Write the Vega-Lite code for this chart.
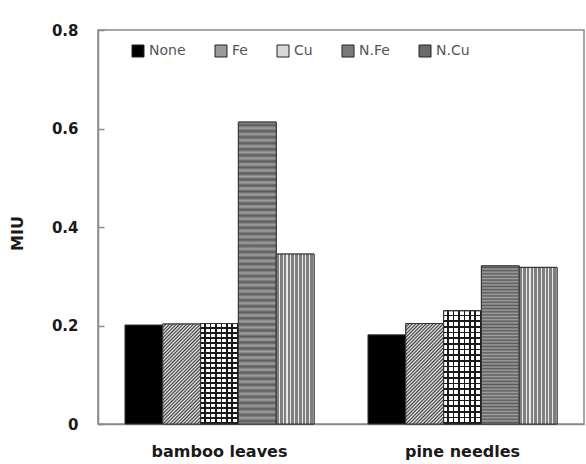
{
  "$schema": "https://vega.github.io/schema/vega-lite/v6.json",
  "width": 486,
  "height": 394,
  "autosize": "none",
  "padding": {"left": 98, "top": 30, "right": 2, "bottom": 40},
  "background": "white",
  "config": {
    "view": {"stroke": "#8a8a8a", "strokeWidth": 1.5},
    "axis": {"grid": false, "domainColor": "#8a8a8a", "domainWidth": 1.5}
  },
  "data": {
    "values": [
      {"material": "bamboo leaves", "treatment": "None", "miu": 0.201},
      {"material": "bamboo leaves", "treatment": "Fe", "miu": 0.203},
      {"material": "bamboo leaves", "treatment": "Cu", "miu": 0.204},
      {"material": "bamboo leaves", "treatment": "N.Fe", "miu": 0.613},
      {"material": "bamboo leaves", "treatment": "N.Cu", "miu": 0.345},
      {"material": "pine needles", "treatment": "None", "miu": 0.181},
      {"material": "pine needles", "treatment": "Fe", "miu": 0.204},
      {"material": "pine needles", "treatment": "Cu", "miu": 0.23},
      {"material": "pine needles", "treatment": "N.Fe", "miu": 0.321},
      {"material": "pine needles", "treatment": "N.Cu", "miu": 0.318}
    ]
  },
  "encoding": {
    "x": {
      "field": "material",
      "type": "nominal",
      "sort": ["bamboo leaves", "pine needles"],
      "scale": {"paddingInner": 0.222, "paddingOuter": 0.111},
      "axis": {
        "title": null,
        "ticks": false,
        "labelAngle": 0,
        "labelFont": "DejaVu Sans",
        "labelFontWeight": "bold",
        "labelFontSize": 16,
        "labelColor": "#1a1a1a",
        "labelBaseline": "top",
        "labelPadding": 19
      }
    },
    "xOffset": {
      "field": "treatment",
      "type": "nominal",
      "sort": ["None", "Fe", "Cu", "N.Fe", "N.Cu"],
      "scale": {"domain": ["None", "Fe", "Cu", "N.Fe", "N.Cu"], "paddingInner": 0, "paddingOuter": 0}
    },
    "y": {
      "field": "miu",
      "type": "quantitative",
      "scale": {"domain": [0, 0.8]},
      "axis": {
        "title": "MIU",
        "values": [0, 0.2, 0.4, 0.6, 0.8],
        "format": "~g",
        "tickColor": "#8a8a8a",
        "tickSize": -6,
        "tickWidth": 1.5,
        "labelFont": "DejaVu Sans",
        "labelFontWeight": "bold",
        "labelFontSize": 15,
        "labelColor": "#1a1a1a",
        "labelPadding": 26,
        "titleFont": "DejaVu Sans",
        "titleFontWeight": "bold",
        "titleFontSize": 16,
        "titleColor": "#1a1a1a",
        "titleAngle": -90,
        "titleAlign": "center",
        "titleBaseline": "middle",
        "titleX": -81,
        "titleY": 203
      }
    }
  },
  "layer": [
    {
      "mark": {"type": "bar", "stroke": "#333333", "strokeWidth": 1},
      "encoding": {
        "color": {
          "field": "treatment",
          "type": "nominal",
          "scale": {
            "domain": ["None", "Fe", "Cu", "N.Fe", "N.Cu"],
            "range": ["#000000", "#9a9a9a", "#d8d8d8", "#7a7a7a", "#6a6a6a"]
          },
          "legend": {
            "title": null,
            "orient": "none",
            "legendX": 33,
            "legendY": 14,
            "direction": "horizontal",
            "symbolType": "square",
            "symbolSize": 144,
            "symbolStrokeColor": "#222222",
            "symbolStrokeWidth": 1,
            "symbolOpacity": 1,
            "labelFont": "DejaVu Sans",
            "labelFontSize": 14,
            "labelColor": "#555555",
            "labelOffset": 4,
            "columnPadding": 27
          }
        }
      }
    },
    {
      "transform": [{"filter": "datum.treatment === 'Fe'"}],
      "mark": {
        "type": "bar",
        "stroke": "#333333",
        "strokeWidth": 1,
        "fill": {
          "gradient": "linear", "x1": 0, "y1": 0, "x2": 0.458, "y2": 1.206,
          "stops": [
            {"offset": 0, "color": "#3c3c3c"}, {"offset": 0.0125, "color": "#f0f0f0"}, {"offset": 0.025, "color": "#3c3c3c"}, {"offset": 0.0375, "color": "#f0f0f0"},
            {"offset": 0.05, "color": "#3c3c3c"}, {"offset": 0.0625, "color": "#f0f0f0"}, {"offset": 0.075, "color": "#3c3c3c"}, {"offset": 0.0875, "color": "#f0f0f0"},
            {"offset": 0.1, "color": "#3c3c3c"}, {"offset": 0.1125, "color": "#f0f0f0"}, {"offset": 0.125, "color": "#3c3c3c"}, {"offset": 0.1375, "color": "#f0f0f0"},
            {"offset": 0.15, "color": "#3c3c3c"}, {"offset": 0.1625, "color": "#f0f0f0"}, {"offset": 0.175, "color": "#3c3c3c"}, {"offset": 0.1875, "color": "#f0f0f0"},
            {"offset": 0.2, "color": "#3c3c3c"}, {"offset": 0.2125, "color": "#f0f0f0"}, {"offset": 0.225, "color": "#3c3c3c"}, {"offset": 0.2375, "color": "#f0f0f0"},
            {"offset": 0.25, "color": "#3c3c3c"}, {"offset": 0.2625, "color": "#f0f0f0"}, {"offset": 0.275, "color": "#3c3c3c"}, {"offset": 0.2875, "color": "#f0f0f0"},
            {"offset": 0.3, "color": "#3c3c3c"}, {"offset": 0.3125, "color": "#f0f0f0"}, {"offset": 0.325, "color": "#3c3c3c"}, {"offset": 0.3375, "color": "#f0f0f0"},
            {"offset": 0.35, "color": "#3c3c3c"}, {"offset": 0.3625, "color": "#f0f0f0"}, {"offset": 0.375, "color": "#3c3c3c"}, {"offset": 0.3875, "color": "#f0f0f0"},
            {"offset": 0.4, "color": "#3c3c3c"}, {"offset": 0.4125, "color": "#f0f0f0"}, {"offset": 0.425, "color": "#3c3c3c"}, {"offset": 0.4375, "color": "#f0f0f0"},
            {"offset": 0.45, "color": "#3c3c3c"}, {"offset": 0.4625, "color": "#f0f0f0"}, {"offset": 0.475, "color": "#3c3c3c"}, {"offset": 0.4875, "color": "#f0f0f0"},
            {"offset": 0.5, "color": "#3c3c3c"}, {"offset": 0.5125, "color": "#f0f0f0"}, {"offset": 0.525, "color": "#3c3c3c"}, {"offset": 0.5375, "color": "#f0f0f0"},
            {"offset": 0.55, "color": "#3c3c3c"}, {"offset": 0.5625, "color": "#f0f0f0"}, {"offset": 0.575, "color": "#3c3c3c"}, {"offset": 0.5875, "color": "#f0f0f0"},
            {"offset": 0.6, "color": "#3c3c3c"}, {"offset": 0.6125, "color": "#f0f0f0"}, {"offset": 0.625, "color": "#3c3c3c"}, {"offset": 0.6375, "color": "#f0f0f0"},
            {"offset": 0.65, "color": "#3c3c3c"}, {"offset": 0.6625, "color": "#f0f0f0"}, {"offset": 0.675, "color": "#3c3c3c"}, {"offset": 0.6875, "color": "#f0f0f0"},
            {"offset": 0.7, "color": "#3c3c3c"}, {"offset": 0.7125, "color": "#f0f0f0"}, {"offset": 0.725, "color": "#3c3c3c"}, {"offset": 0.7375, "color": "#f0f0f0"},
            {"offset": 0.75, "color": "#3c3c3c"}, {"offset": 0.7625, "color": "#f0f0f0"}, {"offset": 0.775, "color": "#3c3c3c"}, {"offset": 0.7875, "color": "#f0f0f0"},
            {"offset": 0.8, "color": "#3c3c3c"}, {"offset": 0.8125, "color": "#f0f0f0"}, {"offset": 0.825, "color": "#3c3c3c"}, {"offset": 0.8375, "color": "#f0f0f0"},
            {"offset": 0.85, "color": "#3c3c3c"}, {"offset": 0.8625, "color": "#f0f0f0"}, {"offset": 0.875, "color": "#3c3c3c"}, {"offset": 0.8875, "color": "#f0f0f0"},
            {"offset": 0.9, "color": "#3c3c3c"}, {"offset": 0.9125, "color": "#f0f0f0"}, {"offset": 0.925, "color": "#3c3c3c"}, {"offset": 0.9375, "color": "#f0f0f0"},
            {"offset": 0.95, "color": "#3c3c3c"}, {"offset": 0.9625, "color": "#f0f0f0"}, {"offset": 0.975, "color": "#3c3c3c"}, {"offset": 0.9875, "color": "#f0f0f0"},
            {"offset": 1, "color": "#3c3c3c"}
          ]
        }
      }
    },
    {
      "transform": [{"filter": "datum.treatment === 'Cu'"}],
      "mark": {
        "type": "bar",
        "stroke": "#333333",
        "strokeWidth": 1,
        "fill": {
          "gradient": "linear", "x1": 0, "y1": 0, "x2": 1, "y2": 0,
          "stops": [
            {"offset": 0, "color": "#ffffff"}, {"offset": 0.1, "color": "#ffffff"}, {"offset": 0.1, "color": "#1a1a1a"}, {"offset": 0.1429, "color": "#1a1a1a"},
            {"offset": 0.1429, "color": "#ffffff"}, {"offset": 0.2429, "color": "#ffffff"}, {"offset": 0.2429, "color": "#1a1a1a"}, {"offset": 0.2857, "color": "#1a1a1a"},
            {"offset": 0.2857, "color": "#ffffff"}, {"offset": 0.3857, "color": "#ffffff"}, {"offset": 0.3857, "color": "#1a1a1a"}, {"offset": 0.4286, "color": "#1a1a1a"},
            {"offset": 0.4286, "color": "#ffffff"}, {"offset": 0.5286, "color": "#ffffff"}, {"offset": 0.5286, "color": "#1a1a1a"}, {"offset": 0.5714, "color": "#1a1a1a"},
            {"offset": 0.5714, "color": "#ffffff"}, {"offset": 0.6714, "color": "#ffffff"}, {"offset": 0.6714, "color": "#1a1a1a"}, {"offset": 0.7143, "color": "#1a1a1a"},
            {"offset": 0.7143, "color": "#ffffff"}, {"offset": 0.8143, "color": "#ffffff"}, {"offset": 0.8143, "color": "#1a1a1a"}, {"offset": 0.8571, "color": "#1a1a1a"},
            {"offset": 0.8571, "color": "#ffffff"}, {"offset": 0.9571, "color": "#ffffff"}, {"offset": 0.9571, "color": "#1a1a1a"}, {"offset": 1, "color": "#1a1a1a"}
          ]
        }
      }
    },
    {
      "transform": [{"filter": "datum.treatment === 'Cu'"}],
      "mark": {
        "type": "bar",
        "stroke": "#333333",
        "strokeWidth": 1,
        "fill": {
          "gradient": "linear", "x1": 0, "y1": 0, "x2": 0, "y2": 1,
          "stops": [
            {"offset": 0, "color": "rgba(0,0,0,0)"}, {"offset": 0.035, "color": "rgba(0,0,0,0)"}, {"offset": 0.035, "color": "#1a1a1a"}, {"offset": 0.05, "color": "#1a1a1a"},
            {"offset": 0.05, "color": "rgba(0,0,0,0)"}, {"offset": 0.085, "color": "rgba(0,0,0,0)"}, {"offset": 0.085, "color": "#1a1a1a"}, {"offset": 0.1, "color": "#1a1a1a"},
            {"offset": 0.1, "color": "rgba(0,0,0,0)"}, {"offset": 0.135, "color": "rgba(0,0,0,0)"}, {"offset": 0.135, "color": "#1a1a1a"}, {"offset": 0.15, "color": "#1a1a1a"},
            {"offset": 0.15, "color": "rgba(0,0,0,0)"}, {"offset": 0.185, "color": "rgba(0,0,0,0)"}, {"offset": 0.185, "color": "#1a1a1a"}, {"offset": 0.2, "color": "#1a1a1a"},
            {"offset": 0.2, "color": "rgba(0,0,0,0)"}, {"offset": 0.235, "color": "rgba(0,0,0,0)"}, {"offset": 0.235, "color": "#1a1a1a"}, {"offset": 0.25, "color": "#1a1a1a"},
            {"offset": 0.25, "color": "rgba(0,0,0,0)"}, {"offset": 0.285, "color": "rgba(0,0,0,0)"}, {"offset": 0.285, "color": "#1a1a1a"}, {"offset": 0.3, "color": "#1a1a1a"},
            {"offset": 0.3, "color": "rgba(0,0,0,0)"}, {"offset": 0.335, "color": "rgba(0,0,0,0)"}, {"offset": 0.335, "color": "#1a1a1a"}, {"offset": 0.35, "color": "#1a1a1a"},
            {"offset": 0.35, "color": "rgba(0,0,0,0)"}, {"offset": 0.385, "color": "rgba(0,0,0,0)"}, {"offset": 0.385, "color": "#1a1a1a"}, {"offset": 0.4, "color": "#1a1a1a"},
            {"offset": 0.4, "color": "rgba(0,0,0,0)"}, {"offset": 0.435, "color": "rgba(0,0,0,0)"}, {"offset": 0.435, "color": "#1a1a1a"}, {"offset": 0.45, "color": "#1a1a1a"},
            {"offset": 0.45, "color": "rgba(0,0,0,0)"}, {"offset": 0.485, "color": "rgba(0,0,0,0)"}, {"offset": 0.485, "color": "#1a1a1a"}, {"offset": 0.5, "color": "#1a1a1a"},
            {"offset": 0.5, "color": "rgba(0,0,0,0)"}, {"offset": 0.535, "color": "rgba(0,0,0,0)"}, {"offset": 0.535, "color": "#1a1a1a"}, {"offset": 0.55, "color": "#1a1a1a"},
            {"offset": 0.55, "color": "rgba(0,0,0,0)"}, {"offset": 0.585, "color": "rgba(0,0,0,0)"}, {"offset": 0.585, "color": "#1a1a1a"}, {"offset": 0.6, "color": "#1a1a1a"},
            {"offset": 0.6, "color": "rgba(0,0,0,0)"}, {"offset": 0.635, "color": "rgba(0,0,0,0)"}, {"offset": 0.635, "color": "#1a1a1a"}, {"offset": 0.65, "color": "#1a1a1a"},
            {"offset": 0.65, "color": "rgba(0,0,0,0)"}, {"offset": 0.685, "color": "rgba(0,0,0,0)"}, {"offset": 0.685, "color": "#1a1a1a"}, {"offset": 0.7, "color": "#1a1a1a"},
            {"offset": 0.7, "color": "rgba(0,0,0,0)"}, {"offset": 0.735, "color": "rgba(0,0,0,0)"}, {"offset": 0.735, "color": "#1a1a1a"}, {"offset": 0.75, "color": "#1a1a1a"},
            {"offset": 0.75, "color": "rgba(0,0,0,0)"}, {"offset": 0.785, "color": "rgba(0,0,0,0)"}, {"offset": 0.785, "color": "#1a1a1a"}, {"offset": 0.8, "color": "#1a1a1a"},
            {"offset": 0.8, "color": "rgba(0,0,0,0)"}, {"offset": 0.835, "color": "rgba(0,0,0,0)"}, {"offset": 0.835, "color": "#1a1a1a"}, {"offset": 0.85, "color": "#1a1a1a"},
            {"offset": 0.85, "color": "rgba(0,0,0,0)"}, {"offset": 0.885, "color": "rgba(0,0,0,0)"}, {"offset": 0.885, "color": "#1a1a1a"}, {"offset": 0.9, "color": "#1a1a1a"},
            {"offset": 0.9, "color": "rgba(0,0,0,0)"}, {"offset": 0.935, "color": "rgba(0,0,0,0)"}, {"offset": 0.935, "color": "#1a1a1a"}, {"offset": 0.95, "color": "#1a1a1a"},
            {"offset": 0.95, "color": "rgba(0,0,0,0)"}, {"offset": 0.985, "color": "rgba(0,0,0,0)"}, {"offset": 0.985, "color": "#1a1a1a"}, {"offset": 1, "color": "#1a1a1a"}
          ]
        }
      }
    },
    {
      "transform": [{"filter": "datum.treatment === 'N.Fe'"}],
      "mark": {
        "type": "bar",
        "stroke": "#333333",
        "strokeWidth": 1,
        "fill": {
          "gradient": "linear", "x1": 0, "y1": 0, "x2": 0, "y2": 1,
          "stops": [
            {"offset": 0, "color": "#a0a0a0"}, {"offset": 0.01, "color": "#5a5a5a"}, {"offset": 0.02, "color": "#a0a0a0"}, {"offset": 0.03, "color": "#5a5a5a"},
            {"offset": 0.04, "color": "#a0a0a0"}, {"offset": 0.05, "color": "#5a5a5a"}, {"offset": 0.06, "color": "#a0a0a0"}, {"offset": 0.07, "color": "#5a5a5a"},
            {"offset": 0.08, "color": "#a0a0a0"}, {"offset": 0.09, "color": "#5a5a5a"}, {"offset": 0.1, "color": "#a0a0a0"}, {"offset": 0.11, "color": "#5a5a5a"},
            {"offset": 0.12, "color": "#a0a0a0"}, {"offset": 0.13, "color": "#5a5a5a"}, {"offset": 0.14, "color": "#a0a0a0"}, {"offset": 0.15, "color": "#5a5a5a"},
            {"offset": 0.16, "color": "#a0a0a0"}, {"offset": 0.17, "color": "#5a5a5a"}, {"offset": 0.18, "color": "#a0a0a0"}, {"offset": 0.19, "color": "#5a5a5a"},
            {"offset": 0.2, "color": "#a0a0a0"}, {"offset": 0.21, "color": "#5a5a5a"}, {"offset": 0.22, "color": "#a0a0a0"}, {"offset": 0.23, "color": "#5a5a5a"},
            {"offset": 0.24, "color": "#a0a0a0"}, {"offset": 0.25, "color": "#5a5a5a"}, {"offset": 0.26, "color": "#a0a0a0"}, {"offset": 0.27, "color": "#5a5a5a"},
            {"offset": 0.28, "color": "#a0a0a0"}, {"offset": 0.29, "color": "#5a5a5a"}, {"offset": 0.3, "color": "#a0a0a0"}, {"offset": 0.31, "color": "#5a5a5a"},
            {"offset": 0.32, "color": "#a0a0a0"}, {"offset": 0.33, "color": "#5a5a5a"}, {"offset": 0.34, "color": "#a0a0a0"}, {"offset": 0.35, "color": "#5a5a5a"},
            {"offset": 0.36, "color": "#a0a0a0"}, {"offset": 0.37, "color": "#5a5a5a"}, {"offset": 0.38, "color": "#a0a0a0"}, {"offset": 0.39, "color": "#5a5a5a"},
            {"offset": 0.4, "color": "#a0a0a0"}, {"offset": 0.41, "color": "#5a5a5a"}, {"offset": 0.42, "color": "#a0a0a0"}, {"offset": 0.43, "color": "#5a5a5a"},
            {"offset": 0.44, "color": "#a0a0a0"}, {"offset": 0.45, "color": "#5a5a5a"}, {"offset": 0.46, "color": "#a0a0a0"}, {"offset": 0.47, "color": "#5a5a5a"},
            {"offset": 0.48, "color": "#a0a0a0"}, {"offset": 0.49, "color": "#5a5a5a"}, {"offset": 0.5, "color": "#a0a0a0"}, {"offset": 0.51, "color": "#5a5a5a"},
            {"offset": 0.52, "color": "#a0a0a0"}, {"offset": 0.53, "color": "#5a5a5a"}, {"offset": 0.54, "color": "#a0a0a0"}, {"offset": 0.55, "color": "#5a5a5a"},
            {"offset": 0.56, "color": "#a0a0a0"}, {"offset": 0.57, "color": "#5a5a5a"}, {"offset": 0.58, "color": "#a0a0a0"}, {"offset": 0.59, "color": "#5a5a5a"},
            {"offset": 0.6, "color": "#a0a0a0"}, {"offset": 0.61, "color": "#5a5a5a"}, {"offset": 0.62, "color": "#a0a0a0"}, {"offset": 0.63, "color": "#5a5a5a"},
            {"offset": 0.64, "color": "#a0a0a0"}, {"offset": 0.65, "color": "#5a5a5a"}, {"offset": 0.66, "color": "#a0a0a0"}, {"offset": 0.67, "color": "#5a5a5a"},
            {"offset": 0.68, "color": "#a0a0a0"}, {"offset": 0.69, "color": "#5a5a5a"}, {"offset": 0.7, "color": "#a0a0a0"}, {"offset": 0.71, "color": "#5a5a5a"},
            {"offset": 0.72, "color": "#a0a0a0"}, {"offset": 0.73, "color": "#5a5a5a"}, {"offset": 0.74, "color": "#a0a0a0"}, {"offset": 0.75, "color": "#5a5a5a"},
            {"offset": 0.76, "color": "#a0a0a0"}, {"offset": 0.77, "color": "#5a5a5a"}, {"offset": 0.78, "color": "#a0a0a0"}, {"offset": 0.79, "color": "#5a5a5a"},
            {"offset": 0.8, "color": "#a0a0a0"}, {"offset": 0.81, "color": "#5a5a5a"}, {"offset": 0.82, "color": "#a0a0a0"}, {"offset": 0.83, "color": "#5a5a5a"},
            {"offset": 0.84, "color": "#a0a0a0"}, {"offset": 0.85, "color": "#5a5a5a"}, {"offset": 0.86, "color": "#a0a0a0"}, {"offset": 0.87, "color": "#5a5a5a"},
            {"offset": 0.88, "color": "#a0a0a0"}, {"offset": 0.89, "color": "#5a5a5a"}, {"offset": 0.9, "color": "#a0a0a0"}, {"offset": 0.91, "color": "#5a5a5a"},
            {"offset": 0.92, "color": "#a0a0a0"}, {"offset": 0.93, "color": "#5a5a5a"}, {"offset": 0.94, "color": "#a0a0a0"}, {"offset": 0.95, "color": "#5a5a5a"},
            {"offset": 0.96, "color": "#a0a0a0"}, {"offset": 0.97, "color": "#5a5a5a"}, {"offset": 0.98, "color": "#a0a0a0"}, {"offset": 0.99, "color": "#5a5a5a"},
            {"offset": 1, "color": "#a0a0a0"}
          ]
        }
      }
    },
    {
      "transform": [{"filter": "datum.treatment === 'N.Cu'"}],
      "mark": {
        "type": "bar",
        "stroke": "#333333",
        "strokeWidth": 1,
        "fill": {
          "gradient": "linear", "x1": 0, "y1": 0, "x2": 1, "y2": 0,
          "stops": [
            {"offset": 0, "color": "#7f7f7f"}, {"offset": 0.07, "color": "#7f7f7f"}, {"offset": 0.07, "color": "#e8e8e8"}, {"offset": 0.1, "color": "#e8e8e8"},
            {"offset": 0.1, "color": "#7f7f7f"}, {"offset": 0.17, "color": "#7f7f7f"}, {"offset": 0.17, "color": "#e8e8e8"}, {"offset": 0.2, "color": "#e8e8e8"},
            {"offset": 0.2, "color": "#7f7f7f"}, {"offset": 0.27, "color": "#7f7f7f"}, {"offset": 0.27, "color": "#e8e8e8"}, {"offset": 0.3, "color": "#e8e8e8"},
            {"offset": 0.3, "color": "#7f7f7f"}, {"offset": 0.37, "color": "#7f7f7f"}, {"offset": 0.37, "color": "#e8e8e8"}, {"offset": 0.4, "color": "#e8e8e8"},
            {"offset": 0.4, "color": "#7f7f7f"}, {"offset": 0.47, "color": "#7f7f7f"}, {"offset": 0.47, "color": "#e8e8e8"}, {"offset": 0.5, "color": "#e8e8e8"},
            {"offset": 0.5, "color": "#7f7f7f"}, {"offset": 0.57, "color": "#7f7f7f"}, {"offset": 0.57, "color": "#e8e8e8"}, {"offset": 0.6, "color": "#e8e8e8"},
            {"offset": 0.6, "color": "#7f7f7f"}, {"offset": 0.67, "color": "#7f7f7f"}, {"offset": 0.67, "color": "#e8e8e8"}, {"offset": 0.7, "color": "#e8e8e8"},
            {"offset": 0.7, "color": "#7f7f7f"}, {"offset": 0.77, "color": "#7f7f7f"}, {"offset": 0.77, "color": "#e8e8e8"}, {"offset": 0.8, "color": "#e8e8e8"},
            {"offset": 0.8, "color": "#7f7f7f"}, {"offset": 0.87, "color": "#7f7f7f"}, {"offset": 0.87, "color": "#e8e8e8"}, {"offset": 0.9, "color": "#e8e8e8"},
            {"offset": 0.9, "color": "#7f7f7f"}, {"offset": 0.97, "color": "#7f7f7f"}, {"offset": 0.97, "color": "#e8e8e8"}, {"offset": 1, "color": "#e8e8e8"}
          ]
        }
      }
    }
  ]
}
